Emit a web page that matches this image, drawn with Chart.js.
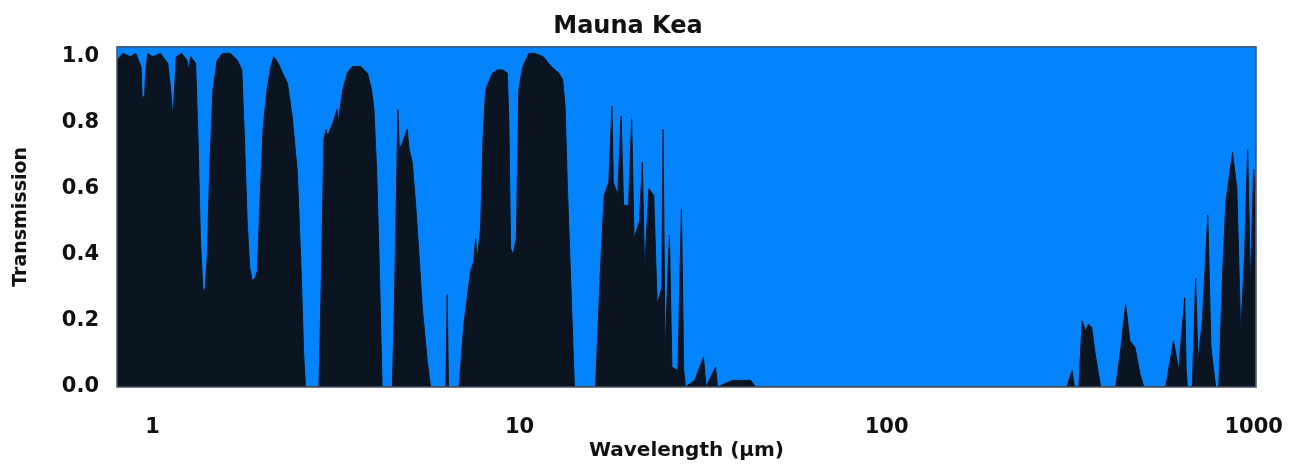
<!DOCTYPE html>
<html>
<head>
<meta charset="utf-8">
<script src="https://cdn.jsdelivr.net/npm/chart.js@4"></script>
<style>
  html, body { margin: 0; padding: 0; background: #fff; }
  #wrap { width: 1293px; height: 469px; }
</style>
</head>
<body>
<div id="wrap"><canvas id="atm"></canvas></div>
<script>
/* Mauna Kea atmospheric transmission, 0.8 - 1000 um */

const TITLE = "Mauna Kea";
const X_TICKS = [1, 10, 100, 1000];

// wavelength (um)
const wavelength = [
  0.80, 0.83, 0.87, 0.90, 0.93, 0.937, 0.945, 0.95, 0.957, 0.97, 1.00, 1.05, 1.10, 1.12, 1.135, 1.145, 1.16, 1.20, 1.24, 1.255, 1.27, 1.31,
  1.33, 1.35, 1.37, 1.39, 1.41, 1.43, 1.46, 1.50, 1.55, 1.63, 1.70, 1.75, 1.78, 1.81, 1.84, 1.87, 1.90, 1.93, 1.96,
  2.00, 2.05, 2.10, 2.14, 2.20, 2.26, 2.33, 2.40, 2.48, 2.54, 2.58, 2.61,
  2.84, 2.88, 2.93, 2.97, 3.00, 3.10, 3.18, 3.20, 3.30, 3.39, 3.50, 3.69, 3.85, 3.95, 4.01, 4.08, 4.15, 4.20, 4.22,
  4.50, 4.55, 4.62, 4.66, 4.70, 4.80, 4.94, 5.00, 5.10, 5.21, 5.32, 5.43, 5.60, 5.72,
  6.30, 6.35, 6.40,
  6.84, 7.05, 7.35, 7.50, 7.59, 7.65, 7.83, 7.95, 8.08, 8.43, 8.70, 9.00, 9.26, 9.35, 9.45, 9.60, 9.80, 9.95,
  10.2, 10.6, 11.0, 11.6, 12.2, 12.8, 13.1, 13.3, 13.5, 13.8, 14.1,
  16.1, 16.6, 17.0, 17.5, 17.85, 18.0, 18.5, 18.9, 19.2, 19.8, 20.2, 20.5, 21.2, 21.6, 21.9, 22.5, 23.2, 23.7,
  24.4, 24.6, 24.9, 25.6, 26.0, 27.0, 27.6, 28.0, 28.3,
  30.0, 31.7, 32.2, 34.2, 34.6, 38.0, 42.6, 44.0,
  310, 320, 325, 334, 341, 348, 355, 362, 370, 383,
  421, 435, 448, 460, 475, 490, 502,
  576, 605, 625, 649, 655, 660,
  681, 695, 705, 725, 750, 765, 788,
  804, 822, 840, 876, 900, 922, 945, 963, 980, 1000, 1010
];

// transmission (0-1), same order as wavelength
const transmission = [
  0.99, 1.01, 1.00, 1.01, 0.97, 0.87, 0.88, 0.86, 0.95, 1.01, 1.00, 1.01, 0.98, 0.90, 0.82, 0.88, 1.00, 1.01, 0.99, 0.96, 1.00, 0.98,
  0.75, 0.45, 0.30, 0.29, 0.40, 0.65, 0.90, 0.99, 1.01, 1.01, 0.99, 0.96, 0.75, 0.50, 0.36, 0.32, 0.33, 0.35, 0.55,
  0.78, 0.90, 0.97, 1.00, 0.98, 0.95, 0.92, 0.82, 0.65, 0.35, 0.10, 0.00,
  0.00, 0.30, 0.75, 0.78, 0.76, 0.80, 0.84, 0.80, 0.90, 0.95, 0.97, 0.97, 0.95, 0.90, 0.84, 0.65, 0.35, 0.10, 0.00,
  0.00, 0.20, 0.60, 0.84, 0.72, 0.74, 0.78, 0.72, 0.68, 0.55, 0.40, 0.24, 0.08, 0.00,
  0.00, 0.28, 0.00,
  0.00, 0.19, 0.35, 0.38, 0.45, 0.38, 0.48, 0.75, 0.90, 0.95, 0.96, 0.96, 0.95, 0.80, 0.42, 0.40, 0.45, 0.90,
  0.97, 1.01, 1.01, 1.00, 0.97, 0.95, 0.93, 0.85, 0.60, 0.30, 0.00,
  0.00, 0.35, 0.58, 0.62, 0.85, 0.62, 0.58, 0.82, 0.55, 0.55, 0.81, 0.45, 0.50, 0.68, 0.35, 0.60, 0.58, 0.25,
  0.30, 0.78, 0.10, 0.46, 0.06, 0.05, 0.54, 0.05, 0.00,
  0.02, 0.09, 0.00, 0.06, 0.00, 0.02, 0.02, 0.00,
  0.00, 0.05, 0.00, 0.00, 0.20, 0.17, 0.19, 0.18, 0.10, 0.00,
  0.00, 0.12, 0.25, 0.14, 0.12, 0.04, 0.00,
  0.00, 0.14, 0.05, 0.27, 0.05, 0.00,
  0.00, 0.33, 0.08, 0.20, 0.52, 0.12, 0.00,
  0.00, 0.33, 0.56, 0.71, 0.60, 0.16, 0.40, 0.72, 0.30, 0.66, 0.60
];

const SKY_BLUE = "#0384fc";
const ABSORB = "#0b1522";
const FONT = "'DejaVu Sans', sans-serif";

// blue plot area + thin frame
const plotFrame = {
  id: "plotFrame",
  beforeDatasetsDraw(chart) {
    const { ctx, chartArea: a } = chart;
    ctx.save();
    ctx.fillStyle = SKY_BLUE;
    ctx.fillRect(a.left, a.top, a.right - a.left, a.bottom - a.top);
    ctx.restore();
  },
  afterDatasetsDraw(chart) {
    const { ctx, chartArea: a } = chart;
    ctx.save();
    ctx.strokeStyle = "#4a5260";
    ctx.lineWidth = 1.5;
    ctx.strokeRect(a.left, a.top, a.right - a.left, a.bottom - a.top);
    ctx.restore();
  },
};

new Chart(document.getElementById("atm"), {
  type: "line",
  data: {
    datasets: [
      {
        label: "Transmission",
        data: wavelength.map((w, i) => ({ x: w, y: transmission[i] })),
        borderColor: ABSORB,
        borderWidth: 1,
        backgroundColor: ABSORB,
        fill: "origin",
        pointRadius: 0,
        tension: 0,
      },
    ],
  },
  options: {
    responsive: true,
    maintainAspectRatio: false,
    animation: false,
    layout: { padding: { left: 0, right: 37, top: 0, bottom: 0 } },
    scales: {
      x: {
        type: "logarithmic",
        min: 0.8,
        max: 1015,
        grid: { display: false },
        border: { display: false },
        afterBuildTicks: (s) => { s.ticks = X_TICKS.map((v) => ({ value: v })); },
        afterFit: (s) => {
          s.height = 82;
          s.paddingLeft = 0;
          s.paddingRight = 0;
        },
        ticks: {
          color: "#111",
          padding: 20,
          maxRotation: 0,
          autoSkip: false,
          font: { family: FONT, size: 21, weight: "bold" },
          callback: (v) => String(v),
        },
        title: {
          display: true,
          text: "Wavelength (μm)",
          color: "#111",
          padding: { top: 0, bottom: 6 },
          font: { family: FONT, size: 20, weight: "bold" },
        },
      },
      y: {
        min: 0,
        max: 1.03,
        grid: { display: false },
        border: { display: false },
        afterBuildTicks: (s) => { s.ticks = [0, 0.2, 0.4, 0.6, 0.8, 1.0].map((v) => ({ value: v })); },
        afterFit: (s) => { s.width = 117; },
        ticks: {
          color: "#111",
          padding: 10,
          font: { family: FONT, size: 21, weight: "bold" },
          callback: (v) => Number(v).toFixed(1),
        },
        title: {
          display: true,
          text: "Transmission",
          color: "#111",
          padding: { top: 10, bottom: 0 },
          font: { family: FONT, size: 19, weight: "bold" },
        },
      },
    },
    plugins: {
      legend: { display: false },
      tooltip: { enabled: false },
      title: {
        display: true,
        text: TITLE,
        color: "#111",
        padding: { top: 12, bottom: 6 },
        font: { family: FONT, size: 24, weight: "bold" },
      },
    },
  },
  plugins: [plotFrame],
});
</script>
</body>
</html>
